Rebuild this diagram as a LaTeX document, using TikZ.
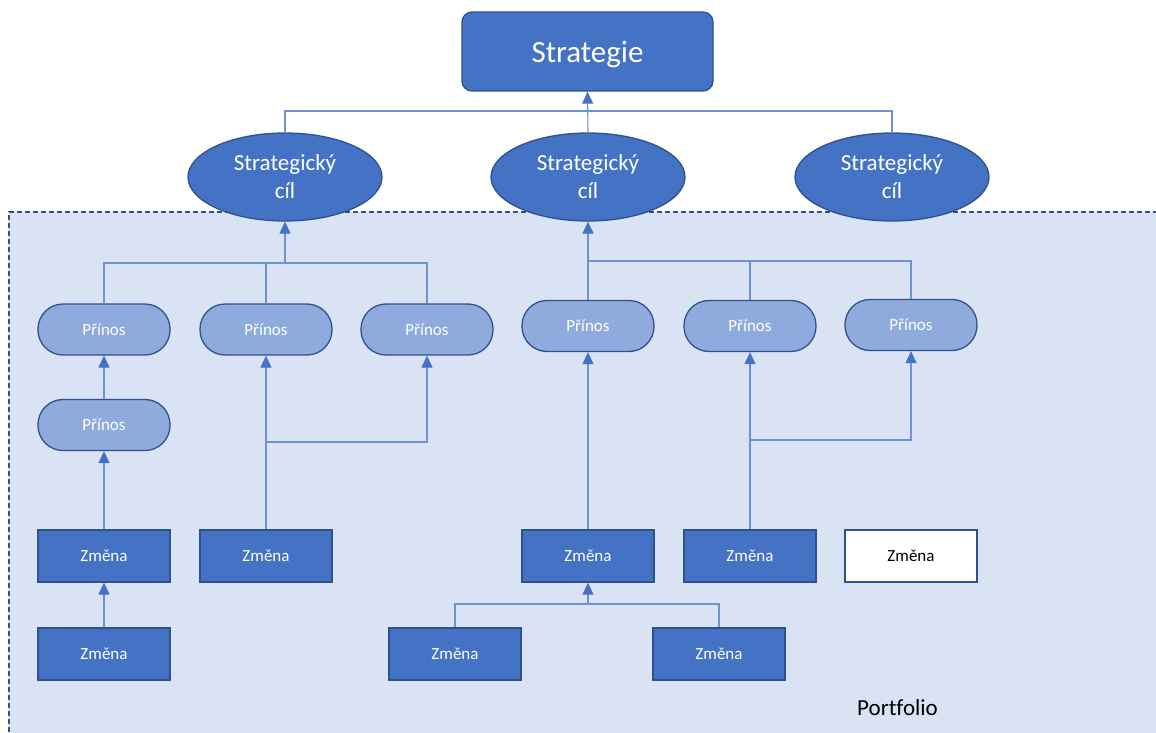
\documentclass[tikz,border=0pt]{standalone}
\usepackage{fontspec}
\setmainfont{Carlito}[Ligatures=NoCommon]
\usetikzlibrary{arrows.meta,shapes.geometric}
\definecolor{accent}{RGB}{68,114,196}
\definecolor{edge}{RGB}{47,82,143}
\definecolor{light}{RGB}{143,170,220}
\definecolor{pane}{RGB}{218,227,243}
\definecolor{wire}{RGB}{110,145,210}
\tikzset{
  topbox/.style={draw=edge,line width=1.3pt,fill=accent,rounded corners=10pt,
    minimum width=251pt,minimum height=79pt,text height=27pt,text depth=4pt,
    text=white,font=\fontsize{31}{36}\selectfont},
  goal/.style={ellipse,draw=edge,line width=1.3pt,fill=accent,minimum width=194pt,
    minimum height=88pt,inner sep=0pt,text=white,align=center,
    font=\fontsize{23}{28}\selectfont},
  benefit/.style={draw=edge,line width=1.3pt,fill=light,rounded corners=25pt,
    minimum width=132pt,minimum height=51pt,text=white,font=\fontsize{17}{20}\selectfont},
  change/.style={draw=edge,line width=1.3pt,fill=accent,minimum width=132pt,
    minimum height=52pt,text=white,font=\fontsize{17}{20}\selectfont},
  blankchange/.style={change,fill=white,text=black},
  conn/.style={draw=wire,line width=1.1pt},
  arr/.style={conn,-{Triangle[length=12pt,width=11pt,fill=accent,color=accent]}}
}
\begin{document}
\begin{tikzpicture}[x=1pt,y=-1pt]
\useasboundingbox (0,0) rectangle (1156,733);
% portfolio pane
\fill[pane] (9,212) rectangle (1160,740);
\draw[edge,line width=1.1pt,dash pattern=on 5pt off 3pt] (9,740) -- (9,212) -- (1160,212);
\node[anchor=base west,inner sep=0pt,font=\fontsize{23}{27}\selectfont] (pf) at (857,715) {Portfolio};

% strategy and goals
\node[topbox] (s) at (587.5,51.5) {Strategie};
\node[goal] (e1) at (285,177) {Strategický\\cíl};
\node[goal] (e2) at (588,177) {Strategický\\cíl};
\node[goal] (e3) at (892,177) {Strategický\\cíl};

% benefits
\node[benefit] (p1) at (104,329.5) {Přínos};
\node[benefit] (p2) at (266,329.5) {Přínos};
\node[benefit] (p3) at (427,329.5) {Přínos};
\node[benefit] (p4) at (588,326) {Přínos};
\node[benefit] (p5) at (750,326) {Přínos};
\node[benefit] (p6) at (911,325) {Přínos};
\node[benefit] (p7) at (104,425) {Přínos};

% changes
\node[change] (c1) at (104,556) {Změna};
\node[change] (c2) at (266,556) {Změna};
\node[change] (c3) at (588,556) {Změna};
\node[change] (c4) at (750,556) {Změna};
\node[blankchange] (c5) at (911,556) {Změna};
\node[change] (c6) at (104,654) {Změna};
\node[change] (c7) at (455,654) {Změna};
\node[change] (c8) at (719,654) {Změna};

% junction points
\coordinate (j0) at (588,111);
\coordinate (j1) at (285,263);
\coordinate (j2) at (588,261);
\coordinate (j3) at (266,442);
\coordinate (j4) at (750,440);
\coordinate (j5) at (588,604);

% goals to strategy
\draw[conn] (e1.north) |- (j0) -| (e3.north);
\draw[arr] (e2.north) -- (s.south);

% benefits to goals
\draw[conn] (p1.north) |- (j1) -| (p3.north);
\draw[conn] (p2.north) -- (p2.north |- j1);
\draw[arr] (j1) -- (e1.south);
\draw[conn] (p4.north) -- (j2) -| (p6.north);
\draw[conn] (p5.north) -- (p5.north |- j2);
\draw[arr] (j2) -- (e2.south);
\draw[arr] (p7.north) -- (p1.south);

% changes to benefits
\draw[arr] (c1.north) -- (p7.south);
\draw[arr] (c2.north) -- (p2.south);
\draw[arr] (j3) -| (p3.south);
\draw[arr] (c3.north) -- (p4.south);
\draw[arr] (c4.north) -- (p5.south);
\draw[arr] (j4) -| (p6.south);
\draw[arr] (c6.north) -- (c1.south);
\draw[conn] (c7.north) |- (j5) -| (c8.north);
\draw[arr] (j5) -- (c3.south);
\end{tikzpicture}
\end{document}
